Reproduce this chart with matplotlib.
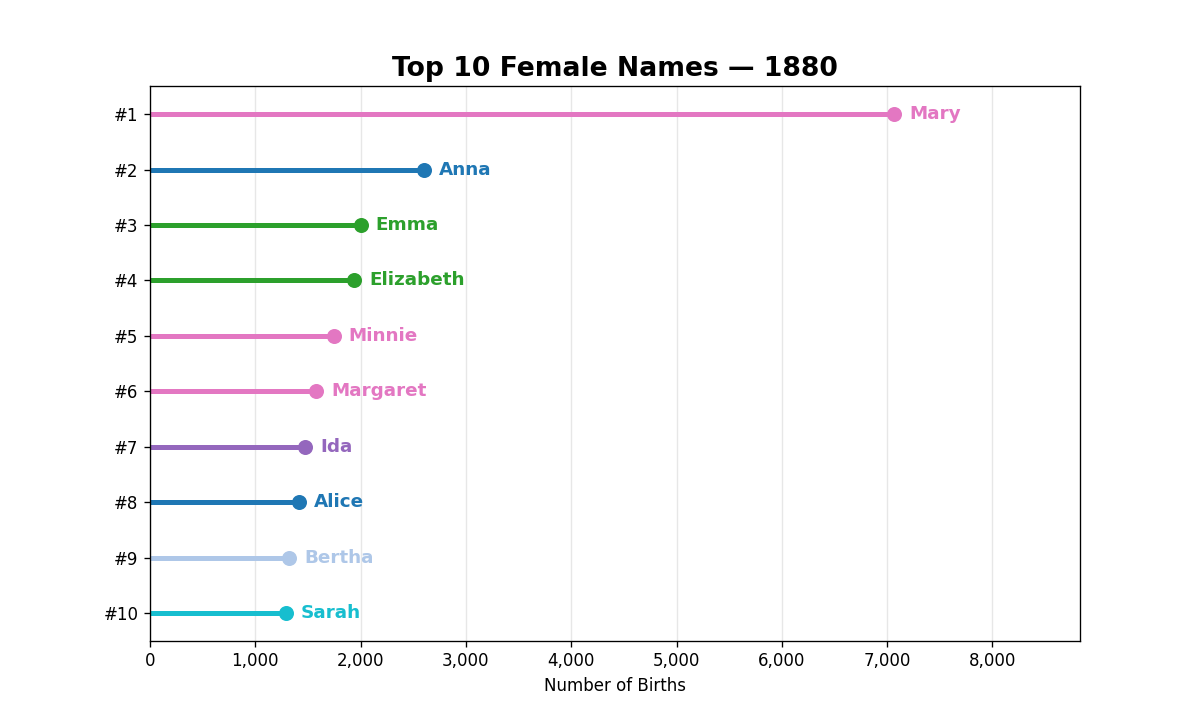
import matplotlib.pyplot as plt
from matplotlib.ticker import FuncFormatter

names = ["Mary", "Anna", "Emma", "Elizabeth", "Minnie", "Margaret", "Ida", "Alice", "Bertha", "Sarah"]
births = [7065, 2604, 2003, 1939, 1746, 1578, 1472, 1414, 1320, 1288]
ranks = ["#1", "#2", "#3", "#4", "#5", "#6", "#7", "#8", "#9", "#10"]
colors = ["#e377c2", "#1f77b4", "#2ca02c", "#2ca02c", "#e377c2",
          "#e377c2", "#9467bd", "#1f77b4", "#aec7e8", "#17becf"]

fig, ax = plt.subplots(figsize=(10, 6), dpi=120)

ypos = list(range(len(names)))
offset = max(births) * 0.02
for y, n, v, c in zip(ypos, names, births, colors):
    ax.hlines(y, 0, v, color=c, linewidth=3)
    ax.plot(v, y, "o", color=c, markersize=8)
    ax.text(v + offset, y, n, color=c, fontsize=11, fontweight="bold", va="center")

ax.set_yticks(ypos)
ax.set_yticklabels(ranks)
ax.set_ylim(len(names) - 0.5, -0.5)
ax.set_xlim(0, max(births) * 1.25)
ax.xaxis.set_major_formatter(FuncFormatter(lambda x, p: f"{int(x):,}"))
ax.grid(axis="x", alpha=0.3)
ax.set_axisbelow(True)
ax.set_xlabel("Number of Births")
ax.set_title("Top 10 Female Names — 1880", fontsize=16, fontweight="bold")

plt.savefig("out.png", dpi=120)
